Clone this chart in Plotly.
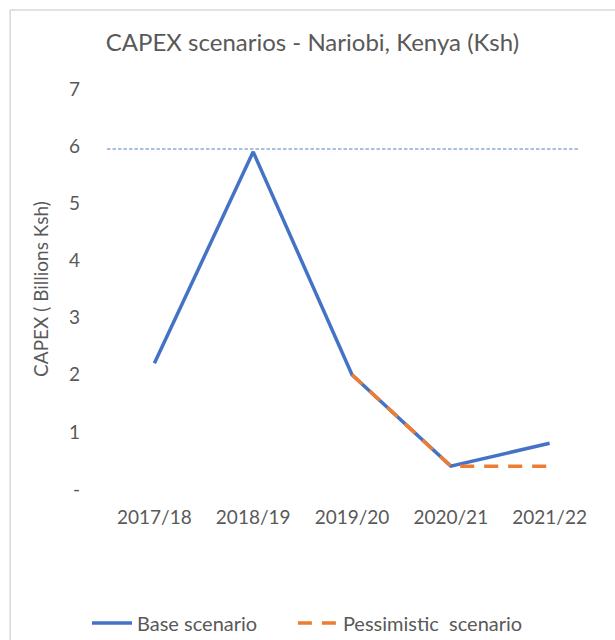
import plotly.graph_objects as go

categories = ["2017/18", "2018/19", "2019/20", "2020/21", "2021/22"]
base_values = [2.2, 5.9, 2.0, 0.4, 0.8]
pessimistic_values = [None, None, 2.0, 0.4, 0.4]
reference_level = 5.95
y_tick_values = [0, 1, 2, 3, 4, 5, 6, 7]
y_tick_labels = ["-", "1", "2", "3", "4", "5", "6", "7"]

FONT = "Lato"
GREY = "#595959"

fig = go.Figure()
fig.add_trace(go.Scatter(
    x=categories, y=base_values, mode="lines", name="Base scenario" + "\u00a0" * 6,
    line=dict(color="#4472C4", width=3.5),
))
fig.add_trace(go.Scatter(
    x=categories, y=pessimistic_values, mode="lines", name="Pessimistic  scenario",
    line=dict(color="#ED7D31", width=3.5, dash="14px,10px"),
))

fig.add_shape(type="line", xref="paper", yref="y", x0=0.004, x1=0.96,
              y0=reference_level, y1=reference_level,
              line=dict(color="#8EA9DB", width=1.3, dash="3.5px,2px"), layer="below")

# chart frame
fig.add_shape(type="rect", xref="paper", yref="paper",
              x0=-0.192, x1=1.1, y0=-0.5, y1=1.1975,
              line=dict(color="#D9D9D9", width=1.5), layer="below")

fig.update_layout(
    width=615, height=640,
    margin=dict(l=105, r=16, t=89, b=151, autoexpand=False),
    paper_bgcolor="white", plot_bgcolor="white",
    font=dict(family=FONT, color=GREY, size=19),
    title=dict(text="CAPEX scenarios - Nariobi, Kenya (Ksh)", x=0.42, xanchor="center",
               xref="paper", y=1 - 43 / 640, yanchor="middle",
               font=dict(family=FONT, size=24, color=GREY)),
    showlegend=True,
    legend=dict(orientation="h", xref="container", yref="container",
                x=87 / 615, xanchor="left", y=17 / 640, yanchor="middle",
                font=dict(family=FONT, size=20, color=GREY), itemwidth=40,
                traceorder="normal"),
)
fig.update_xaxes(type="category", range=[-0.5, 4.5], showgrid=False, showline=False,
                 zeroline=False, ticks="", tickfont=dict(size=19, color=GREY),
                 ticklabelstandoff=15)
fig.update_yaxes(range=[0, 7], tickvals=y_tick_values, ticktext=y_tick_labels,
                 showgrid=False, showline=False, zeroline=False, ticks="",
                 tickfont=dict(size=19, color=GREY), ticklabelstandoff=24,
                 title=dict(text="CAPEX ( Billions Ksh)", font=dict(size=19, color=GREY),
                            standoff=15))

fig.write_html(
    "out.html",
    config={"displayModeBar": False},
    post_script="document.body.style.margin='0px';"
                "document.documentElement.style.overflow='hidden';"
                "document.body.style.overflow='hidden';",
)
